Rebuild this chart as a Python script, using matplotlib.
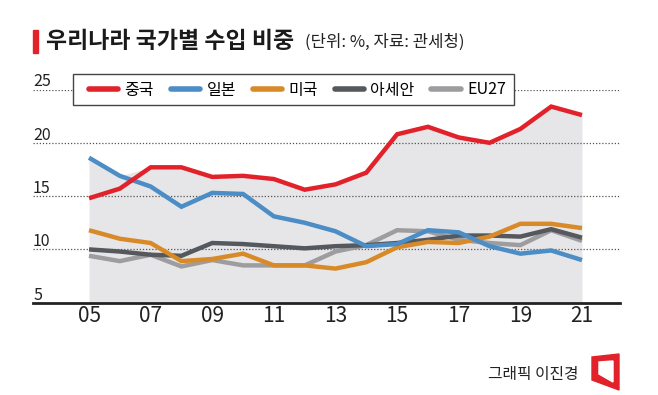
import numpy as np
import matplotlib
matplotlib.use('Agg')
import matplotlib.pyplot as plt
import matplotlib.transforms as mtransforms
from matplotlib.patches import Rectangle, Polygon

plt.rcParams['font.family'] = ['Noto Sans CJK KR', 'DejaVu Sans']

years = np.arange(2005, 2022)
china = [14.8, 15.7, 17.7, 17.7, 16.8, 16.9, 16.6, 15.6, 16.1, 17.2, 20.8, 21.5, 20.5, 20.0, 21.3, 23.4, 22.6]
japan = [18.6, 16.9, 15.9, 14.0, 15.3, 15.2, 13.1, 12.5, 11.7, 10.3, 10.5, 11.8, 11.6, 10.3, 9.6, 9.9, 9.0]
usa = [11.8, 11.0, 10.6, 8.9, 9.1, 9.6, 8.5, 8.5, 8.2, 8.8, 10.2, 10.7, 10.6, 11.2, 12.4, 12.4, 12.0]
asean = [10.0, 9.8, 9.5, 9.4, 10.6, 10.5, 10.3, 10.1, 10.3, 10.4, 10.6, 10.9, 11.3, 11.3, 11.2, 11.9, 11.1]
eu = [9.4, 8.9, 9.5, 8.4, 9.0, 8.5, 8.5, 8.5, 9.8, 10.4, 11.8, 11.7, 10.9, 10.6, 10.4, 11.8, 10.8]

names = ['중국', '일본', '미국', '아세안', 'EU27']
colors = ['#e1222b', '#4b8dc4', '#d98a28', '#55585c', '#9d9d9f']
yticks = [5, 10, 15, 20, 25]
xticks = [2005, 2007, 2009, 2011, 2013, 2015, 2017, 2019, 2021]
xlabels = ['05', '07', '09', '11', '13', '15', '17', '19', '21']

W, H = 658, 395
fig = plt.figure(figsize=(W / 100, H / 100), dpi=100)
ax = fig.add_axes([33 / W, (H - 302.7) / H, 587 / W, 213.2 / H])

series = [china, japan, usa, asean, eu]
top = np.max(np.array(series), axis=0)
ax.fill_between(years, 5, top, color='#e6e6e8', lw=0, zorder=0)

for v in yticks[1:]:
    ax.axhline(v, color='#555555', lw=0.9, ls=(0, (1, 1.5)), zorder=1)

# draw back to front, china on top
order = [4, 3, 2, 1, 0]
handles = {}
for i in order:
    ln, = ax.plot(years, series[i], color=colors[i], lw=3.2, zorder=3,
                  solid_joinstyle='miter', solid_capstyle='butt')
    handles[i] = ln

ax.set_xlim(2005 - 56 / 30.81, 2021 + 38 / 30.81)
ax.set_ylim(5, 25)

for s in ['top', 'left', 'right']:
    ax.spines[s].set_visible(False)
ax.spines['bottom'].set_linewidth(2)
ax.spines['bottom'].set_color('#222222')
ax.spines['bottom'].set_zorder(4)

ax.set_yticks([])
ax.set_xticks(xticks)
ax.set_xticklabels(xlabels, fontsize=15, color='#222222')
ax.tick_params(axis='x', length=0, pad=2)

trans = mtransforms.blended_transform_factory(ax.transAxes, ax.transData)
for v in yticks:
    ax.text(0, v + 0.3, str(v), transform=trans, ha='left', va='baseline',
            fontsize=11.5, color='#222222')

# legend box drawn separately, legend itself frameless
box = Rectangle((73 / W, 1 - 105 / H), 441 / W, 31 / H, transform=fig.transFigure,
                facecolor='white', edgecolor='#444444', lw=1, zorder=5)
ax.add_artist(box)
box.set_clip_on(False)
leg = ax.legend([handles[i] for i in range(5)], names, ncol=5,
                loc='center left', bbox_to_anchor=(89 / W, 1 - 90 / H),
                bbox_transform=fig.transFigure, fontsize=11.5,
                handlelength=1.83, handletextpad=0.4, columnspacing=1.05,
                borderpad=0, borderaxespad=0, frameon=False)
for ln in leg.get_lines():
    ln.set_linewidth(4)
    ln.set_solid_capstyle('round')
leg.set_zorder(6)

# title block
fig.patches.append(Rectangle((33 / W, 1 - 53 / H), 5 / W, 23 / H,
                             transform=fig.transFigure, color='#e1222b'))
fig.text(46 / W, 1 - 42 / H, '우리나라 국가별 수입 비중', fontsize=16.5,
         fontweight='bold', va='center', ha='left', color='#1a1a1a')
fig.text(305 / W, 1 - 42 / H, '(단위: %, 자료: 관세청)', fontsize=12,
         va='center', ha='left', color='#222222')

# credit
fig.text(579 / W, 1 - 374 / H, '그래픽 이진경', fontsize=11.4, va='center',
         ha='right', color='#222222')
outer = [(592, 357), (619, 354), (619, 390), (592, 380)]
inner = [(599, 362), (613, 361), (613, 382), (599, 374)]
fig.patches.append(Polygon([(x / W, 1 - y / H) for x, y in outer],
                           closed=True, transform=fig.transFigure,
                           color='#e1222b'))
fig.patches.append(Polygon([(x / W, 1 - y / H) for x, y in inner],
                           closed=True, transform=fig.transFigure,
                           color='white'))

fig.savefig('out.png', dpi=100)
